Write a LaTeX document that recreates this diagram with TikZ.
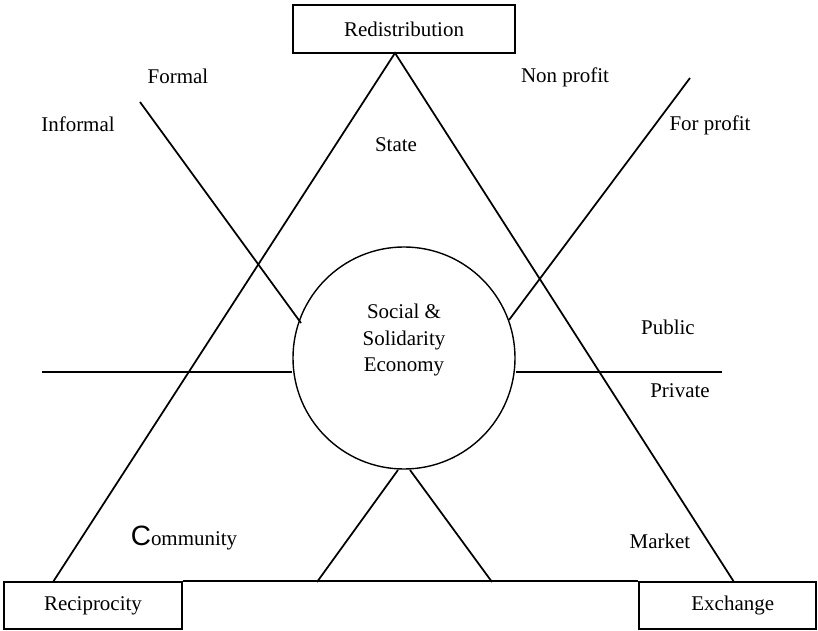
\documentclass[tikz,border=0pt]{standalone}
\usepackage{fontspec}
\setmainfont{Liberation Serif}
\newfontfamily\capsans{Liberation Sans}
\usepackage{tikz}
\usetikzlibrary{calc}

\begin{document}
\begin{tikzpicture}[x=0.5725pt,y=-0.5725pt,line width=1pt,
                    font=\fontsize{12}{15}\selectfont]
  \tikzstyle{corner}=[rectangle,draw=black,fill=white,line width=1.3pt,inner sep=0pt]
  \tikzstyle{word}=[inner sep=0pt]

  \useasboundingbox (0,0) rectangle (818,631);

  \node[corner,minimum width=127.1pt,minimum height=27.5pt] (redis) at (404,29) {Redistribution};
  \node[corner,minimum width=101.9pt,minimum height=26.9pt] (recip) at (93,605.5) {Reciprocity\hspace{23pt}};
  \node[corner,minimum width=101.3pt,minimum height=26.9pt] (exch) at (727.5,605.5) {\hspace{6pt}Exchange};

  \node[circle,draw,line width=0.8pt,minimum size=127.1pt,inner sep=0pt] (sse) at (404,358) {};
  \node[word,align=center] (ssetxt) at (404,340) {Social \&\\Solidarity\\Economy};

  \coordinate (top)   at (395,53);
  \coordinate (lfoot) at (53,582);
  \coordinate (rfoot) at (734,582);
  \draw (lfoot) -- (top) -- (rfoot);
  \draw (recip.north east) -- (exch.north west);

  % formal / informal
  \coordinate (fa) at (140,102);
  \coordinate (fb) at (301,323);
  \draw (fa) -- (fb);
  % non profit / for profit
  \coordinate (pa) at (690,78);
  \coordinate (pb) at (509,320);
  \draw (pa) -- (pb);
  % public / private
  \coordinate (hl) at (42,372);
  \coordinate (hr) at (722,372);
  \draw (hl) -- (sse.west |- hl);
  \draw (sse.east |- hr) -- (hr);
  % under the circle
  \coordinate (va) at (317,582);
  \coordinate (vb) at (398,470);
  \coordinate (vc) at (410,470);
  \coordinate (vd) at (492,582);
  \draw (va) -- (vb);
  \draw (vc) -- (vd);

  \node[word] (formal)    at (178,76)  {Formal};
  \node[word] (informal)  at (78,124)  {Informal};
  \node[word] (nonprofit) at (565,77)  {Non profit};
  \node[word] (forprofit) at (710,125) {For profit};
  \node[word] (state)     at (396,145) {State};
  \node[word] (public)    at (668,327) {Public};
  \node[word] (private)   at (680,391) {Private};
  \node[word] (market)    at (660,541) {Market};
  \node[word] (comm)      at (184,538) {{\capsans\fontsize{16}{16}\selectfont C}ommunity};

\end{tikzpicture}
\end{document}
